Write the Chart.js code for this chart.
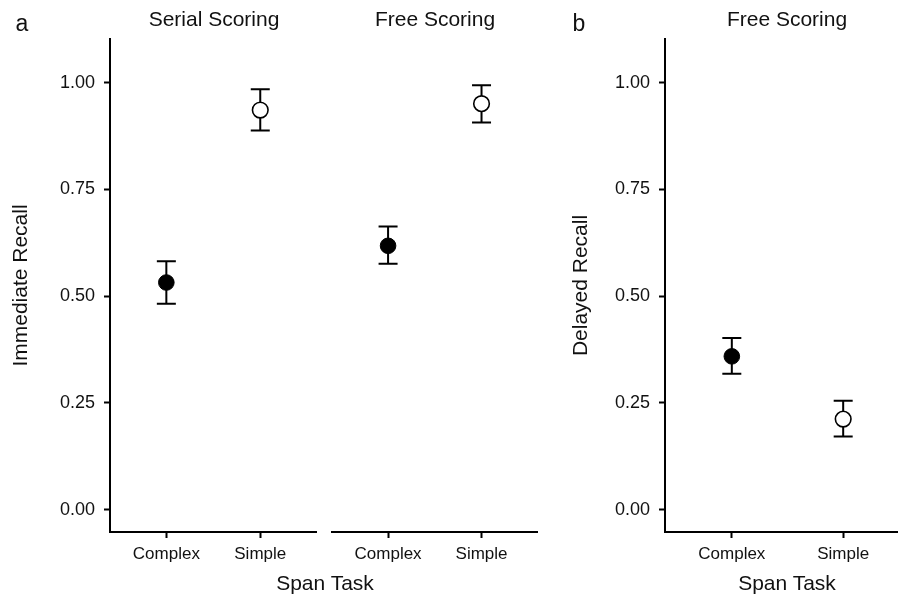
<!DOCTYPE html>
<html>
<head>
<meta charset="utf-8">
<script src="https://cdn.jsdelivr.net/npm/chart.js@4.4.1/dist/chart.umd.min.js"></script>
<style>
  html, body {
    margin: 0;
    padding: 0;
    background: #fff;
    overflow: hidden;
  }
  #stage {
    position: relative;
    width: 898px;
    height: 596px;
    overflow: hidden;
    font-family: "Liberation Sans", Arial, sans-serif;
    color: #111;
  }
  canvas {
    position: absolute;
    top: 0;
  }
  .label {
    position: absolute;
    white-space: nowrap;
    transform: translateX(-50%);
  }
</style>
</head>
<body>
<div id="stage">
  <canvas id="serialChart" width="326" height="596" style="left:0px;width:326px;height:596px"></canvas>
  <canvas id="freeChart" width="225" height="596" style="left:322px;width:225px;height:596px"></canvas>
  <canvas id="delayedChart" width="360" height="596" style="left:560px;width:360px;height:596px"></canvas>

  <div class="label" style="left:22px;top:12px;font-size:23px;line-height:23px">a</div>
  <div class="label" style="left:579px;top:12px;font-size:23px;line-height:23px">b</div>
  <div class="label" style="left:214px;top:8px;font-size:21px;line-height:21px">Serial Scoring</div>
  <div class="label" style="left:435px;top:8px;font-size:21px;line-height:21px">Free Scoring</div>
  <div class="label" style="left:787px;top:8px;font-size:21px;line-height:21px">Free Scoring</div>
  <div class="label" style="left:325px;top:572px;font-size:21px;line-height:21px">Span Task</div>
  <div class="label" style="left:787px;top:572px;font-size:21px;line-height:21px">Span Task</div>
</div>

<script>
const categories = ["Complex", "Simple"];
const yTicks = [0, 0.25, 0.5, 0.75, 1];

// immediate recall, serial scoring
const serialMeans = [0.532, 0.936];
const serialLower = [0.482, 0.888];
const serialUpper = [0.582, 0.985];

// immediate recall, free scoring
const freeMeans = [0.618, 0.951];
const freeLower = [0.576, 0.907];
const freeUpper = [0.663, 0.994];

// delayed recall, free scoring
const delayedMeans = [0.359, 0.212];
const delayedLower = [0.318, 0.171];
const delayedUpper = [0.402, 0.255];

const FONT = "'Liberation Sans', Arial, sans-serif";
const INK = "#111";

// error bars go under the points so the open circles hide the stem
const errorBarPlugin = {
  id: "errorBars",
  beforeDatasetsDraw(chart, args, opts) {
    const { ctx } = chart;
    const x = chart.scales.x;
    const y = chart.scales.y;
    ctx.save();
    ctx.strokeStyle = "#000";
    ctx.lineWidth = 2;
    opts.lower.forEach((lo, i) => {
      const px = x.getPixelForValue(i + 1);
      const top = y.getPixelForValue(opts.upper[i]);
      const bottom = y.getPixelForValue(lo);
      ctx.beginPath();
      ctx.moveTo(px, top);
      ctx.lineTo(px, bottom);
      ctx.moveTo(px - 9.5, top);
      ctx.lineTo(px + 9.5, top);
      ctx.moveTo(px - 9.5, bottom);
      ctx.lineTo(px + 9.5, bottom);
      ctx.stroke();
    });
    ctx.restore();
  },
};

function makePanel(canvasId, means, lower, upper, settings) {
  const points = means.map((value, i) => ({ x: i + 1, y: value }));

  return new Chart(document.getElementById(canvasId), {
    type: "scatter",
    data: {
      datasets: [
        {
          data: points,
          pointRadius: 7.8,
          pointHoverRadius: 7.8,
          pointBackgroundColor: ["#000", "#fff"],
          pointBorderColor: "#000",
          pointBorderWidth: [1, 1.6],
        },
      ],
    },
    options: {
      animation: false,
      responsive: false,
      devicePixelRatio: 1,
      layout: {
        padding: settings.padding,
      },
      scales: {
        x: {
          type: "linear",
          min: 0.4,
          max: 2.6,
          afterBuildTicks: (scale) => {
            scale.ticks = categories.map((_, i) => ({ value: i + 1 }));
          },
          afterFit: (scale) => {
            scale.height = 64;
          },
          grid: {
            display: true,
            drawOnChartArea: false,
            drawTicks: true,
            tickLength: 6,
            tickWidth: 2,
            tickColor: "#000",
          },
          border: { display: true, color: "#000", width: 2 },
          ticks: {
            autoSkip: false,
            maxRotation: 0,
            padding: 6,
            color: INK,
            font: { family: FONT, size: 17 },
            callback: (value) => categories[value - 1],
          },
        },
        y: {
          display: settings.showY,
          min: -0.0525,
          max: 1.1025,
          afterBuildTicks: (scale) => {
            scale.ticks = yTicks.map((value) => ({ value }));
          },
          afterFit: (scale) => {
            scale.width = settings.yWidth;
          },
          grid: {
            display: true,
            drawOnChartArea: false,
            drawTicks: true,
            tickLength: 6,
            tickWidth: 2,
            tickColor: "#000",
          },
          border: { display: true, color: "#000", width: 2 },
          ticks: {
            padding: 9,
            color: INK,
            font: { family: FONT, size: 18 },
            callback: (value) => Number(value).toFixed(2),
          },
          title: {
            display: true,
            text: settings.yTitle,
            color: INK,
            font: { family: FONT, size: 21 },
            padding: { top: 9, bottom: 0 },
          },
        },
      },
      plugins: {
        legend: { display: false },
        tooltip: { enabled: false },
        errorBars: { lower, upper },
      },
    },
    plugins: [errorBarPlugin],
  });
}

makePanel("serialChart", serialMeans, serialLower, serialUpper, {
  showY: true,
  yWidth: 110,
  yTitle: "Immediate Recall",
  padding: { top: 39, bottom: 0, left: 0, right: 8 },
});

makePanel("freeChart", freeMeans, freeLower, freeUpper, {
  showY: false,
  yWidth: 0,
  yTitle: "",
  padding: { top: 39, bottom: 0, left: 10, right: 8 },
});

makePanel("delayedChart", delayedMeans, delayedLower, delayedUpper, {
  showY: true,
  yWidth: 105,
  yTitle: "Delayed Recall",
  padding: { top: 39, bottom: 0, left: 0, right: 10 },
});
</script>
</body>
</html>
